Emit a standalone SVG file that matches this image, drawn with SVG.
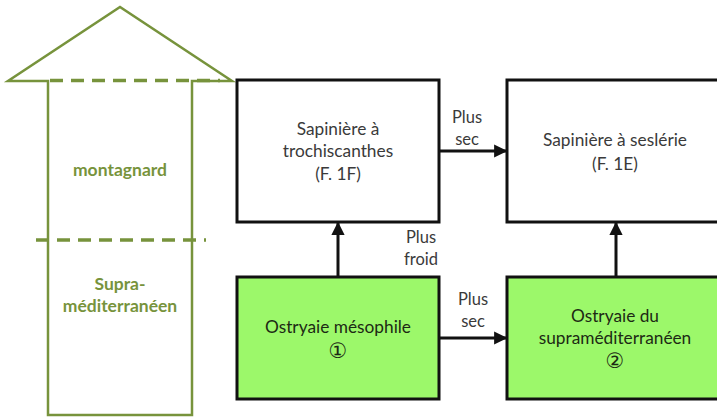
<svg xmlns="http://www.w3.org/2000/svg" width="717" height="417" viewBox="0 0 717 417">
<defs>
<style>
.dash{fill:none;stroke:#77933C;stroke-width:3.5;stroke-dasharray:13 8}
.zone{font-family:Lato,"Liberation Sans",sans-serif;font-weight:bold;font-size:17.5px;fill:#77933C;text-anchor:middle}
.box{stroke:#111;stroke-width:3}
.white{fill:#fff}
.green{fill:#9cf86a}
.t{font-family:Lato,"Liberation Sans","DejaVu Sans",sans-serif;font-size:17.3px;fill:#3a3a3a;text-anchor:middle}
.tg{font-family:Lato,"Liberation Sans","DejaVu Sans",sans-serif;font-size:17.3px;fill:#1c2a14;text-anchor:middle}
.num{font-family:"DejaVu Sans",sans-serif;font-size:21px;fill:#1c2a14;text-anchor:middle}
.lbl{font-family:Lato,"Liberation Sans",sans-serif;font-size:16.5px;fill:#3a3a3a;text-anchor:middle}
.conn{stroke:#111;stroke-width:3;fill:none}
</style>
<marker id="ah" viewBox="0 0 10 10" refX="9" refY="5" markerWidth="4.4" markerHeight="4.4" orient="auto" markerUnits="strokeWidth">
<path d="M0,0 L10,5 L0,10 Z" fill="#111"/>
</marker>
</defs>
<rect width="717" height="417" fill="#fff"/>
<g id="altitude-arrow">
<path d="M48,415 L48,81 L8,81 L120,7 L232,81 L192,81 L192,415 Z" fill="#fff" stroke="#77933C" stroke-width="2.5" stroke-linejoin="miter"/>
<line class="dash" x1="50" y1="80.5" x2="220" y2="80.5"/>
<line class="dash" x1="36" y1="240" x2="206" y2="240"/>
<text class="zone" x="120" y="176">montagnard</text>
<text class="zone" x="120" y="290">Supra-</text>
<text class="zone" x="120" y="312">méditerranéen</text>
</g>
<g id="sapiniere-trochiscanthes">
<rect class="box white" x="237" y="80" width="202" height="142"/>
<text class="t" x="338" y="135">Sapinière à</text>
<text class="t" x="338" y="157">trochiscanthes</text>
<text class="t" x="338" y="180">(F. 1F)</text>
</g>
<g id="sapiniere-seslerie">
<rect class="box white" x="507" y="80" width="215" height="142"/>
<text class="t" x="615" y="146">Sapinière à seslérie</text>
<text class="t" x="615" y="170">(F. 1E)</text>
</g>
<g id="ostryaie-mesophile">
<rect class="box green" x="237" y="277" width="202" height="122"/>
<text class="tg" x="338" y="333">Ostryaie mésophile</text>
<text class="num" x="338" y="358">①</text>
</g>
<g id="ostryaie-supramed">
<rect class="box green" x="507" y="277" width="215" height="122"/>
<text class="tg" x="615" y="322">Ostryaie du</text>
<text class="tg" x="615" y="344">supraméditerranéen</text>
<text class="num" x="615" y="368">②</text>
</g>
<g id="connectors">
<line class="conn" x1="440" y1="151" x2="506" y2="151" marker-end="url(#ah)"/>
<line class="conn" x1="440" y1="338" x2="506" y2="338" marker-end="url(#ah)"/>
<line class="conn" x1="338" y1="276" x2="338" y2="223" marker-end="url(#ah)"/>
<line class="conn" x1="616" y1="276" x2="616" y2="223" marker-end="url(#ah)"/>
<text class="lbl" x="467" y="123">Plus</text>
<text class="lbl" x="467" y="145">sec</text>
<text class="lbl" x="421" y="243">Plus</text>
<text class="lbl" x="421" y="265">froid</text>
<text class="lbl" x="473" y="305">Plus</text>
<text class="lbl" x="473" y="327">sec</text>
</g>
</svg>
